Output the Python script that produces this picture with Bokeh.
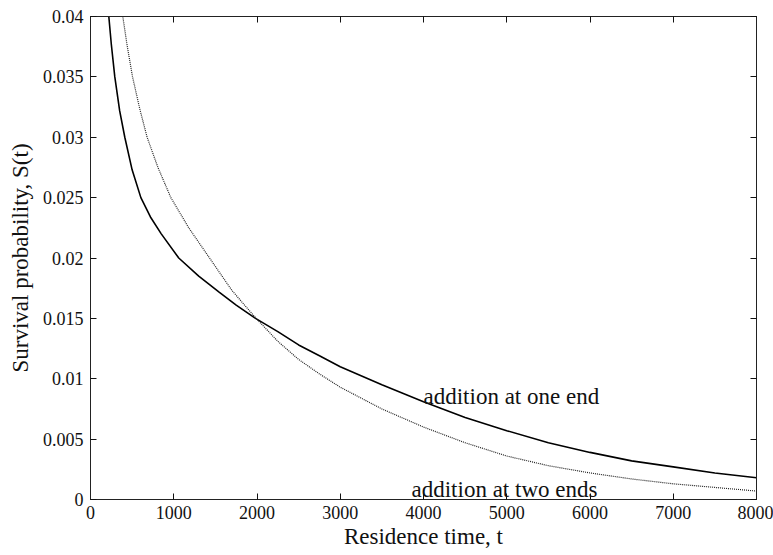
from bokeh.plotting import figure
from bokeh.models import Range1d, FixedTicker, LinearAxis, CustomJSTickFormatter
from bokeh.core.properties import value
from bokeh.embed import file_html
from bokeh.resources import INLINE

# Data
t_one = [220, 250, 292, 350, 412, 500, 605, 720, 850, 1060, 1300, 1541, 1750, 1982,
         2250, 2500, 2750, 3000, 3500, 4000, 4500, 5000, 5500, 6000, 6500, 7000,
         7500, 8000]
s_one = [0.0400, 0.0377, 0.0350, 0.0322, 0.0300, 0.0273, 0.0250, 0.0234, 0.0220,
         0.0200, 0.0185, 0.0172, 0.0161, 0.0150, 0.0139, 0.0128, 0.0119, 0.0110,
         0.0095, 0.0081, 0.0068, 0.0057, 0.0047, 0.0039, 0.0032, 0.0027, 0.0022,
         0.0018]

t_two = [388, 440, 505, 590, 680, 810, 965, 1180, 1430, 1700, 1990, 2250, 2500,
         2750, 3000, 3500, 4000, 4500, 5000, 5500, 6000, 6500, 7000, 7500, 8000]
s_two = [0.0400, 0.0376, 0.0350, 0.0324, 0.0300, 0.0275, 0.0250, 0.0225, 0.0200,
         0.0173, 0.0150, 0.0131, 0.0116, 0.0104, 0.0093, 0.0075, 0.0060, 0.0047,
         0.0036, 0.0028, 0.0022, 0.0017, 0.0013, 0.0010, 0.0007]

x_ticks = [0, 1000, 2000, 3000, 4000, 5000, 6000, 7000, 8000]
y_ticks = [0, 0.005, 0.01, 0.015, 0.02, 0.025, 0.03, 0.035, 0.04]

label_one = "addition at one end"
label_two = "addition at two ends"

FONT = "Liberation Serif"

p = figure(width=773, height=555, output_backend="svg", toolbar_location=None,
           x_range=Range1d(0, 8000), y_range=Range1d(0, 0.04),
           min_border_left=90, min_border_right=17, min_border_top=16,
           min_border_bottom=56)
p.grid.visible = False
p.outline_line_color = "#222222"
p.background_fill_color = "white"
p.border_fill_color = "white"

yfmt = CustomJSTickFormatter(code="return tick.toFixed(3).replace(/\\.?0+$/, '');")
blank = CustomJSTickFormatter(code="return '';")

def style(ax):
    ax.major_tick_in = 6
    ax.major_tick_out = 0
    ax.minor_tick_line_color = None
    ax.axis_line_color = "#222222"
    ax.major_tick_line_color = "#111111"
    ax.major_label_text_font = FONT
    ax.major_label_text_font_size = "18px"
    ax.major_label_text_color = "#111111"
    ax.axis_label_text_font = FONT
    ax.axis_label_text_font_size = "23px"
    ax.axis_label_text_font_style = "normal"
    ax.axis_label_text_color = "#111111"

p.xaxis.ticker = FixedTicker(ticks=x_ticks)
p.yaxis.ticker = FixedTicker(ticks=y_ticks)
p.yaxis.formatter = yfmt
p.xaxis.axis_label = "Residence time, t"
p.yaxis.axis_label = "Survival probability, S(t)"
for ax in p.xaxis + p.yaxis:
    style(ax)
p.xaxis.major_label_standoff = 6
p.xaxis.axis_label_standoff = 2
p.yaxis.major_label_standoff = 7
p.yaxis.axis_label_standoff = 7

top = LinearAxis(ticker=FixedTicker(ticks=x_ticks), formatter=blank)
right = LinearAxis(ticker=FixedTicker(ticks=y_ticks), formatter=blank)
for ax in (top, right):
    style(ax)
    ax.major_label_standoff = 0
p.add_layout(top, "above")
p.add_layout(right, "right")

p.line(t_one, s_one, line_color="black", line_width=1.6)
p.line(t_two, s_two, line_color="#222222", line_width=1.2, line_dash="1 1")

p.text(x=[4000], y=[0.0085], text=[label_one], text_font=value(FONT),
       text_font_size="23px", text_color="#111111", text_baseline="alphabetic")
p.text(x=[3856], y=[0.0008], text=[label_two], text_font=value(FONT),
       text_font_size="23px", text_color="#111111", text_baseline="alphabetic")

open("out.html", "w").write(file_html(p, INLINE))
